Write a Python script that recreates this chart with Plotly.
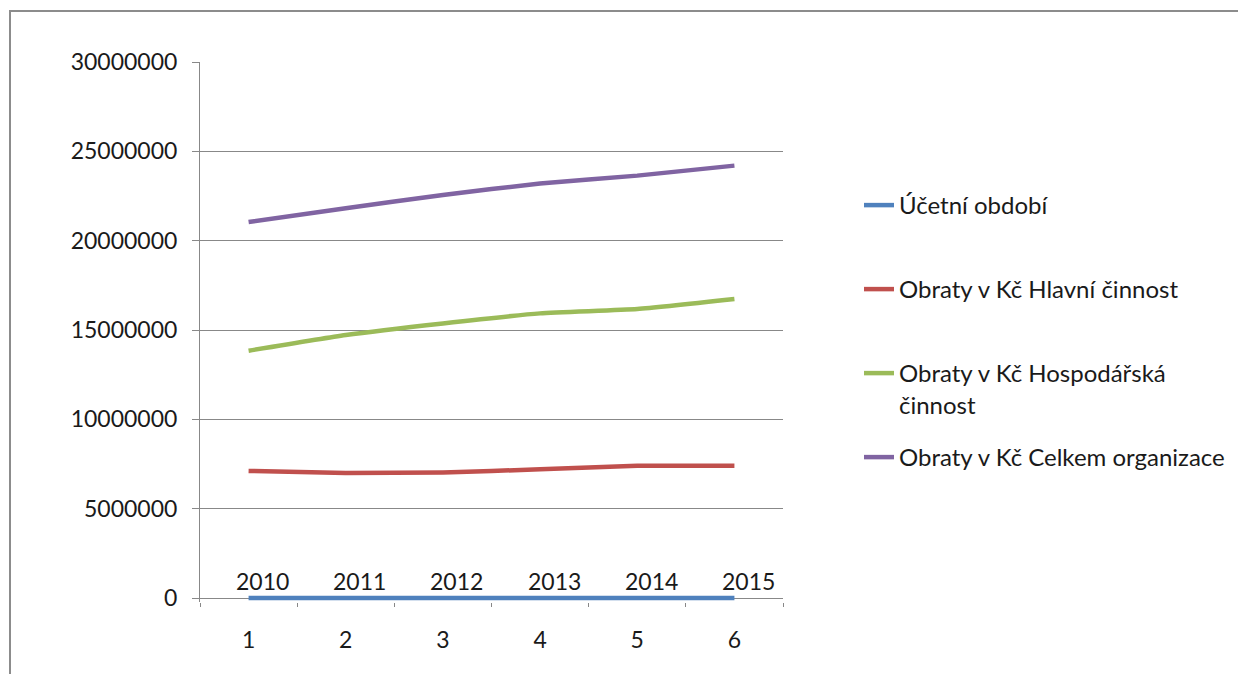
import plotly.graph_objects as go

categories = ["1", "2", "3", "4", "5", "6"]
ucetni_obdobi = [2010, 2011, 2012, 2013, 2014, 2015]
hlavni = [7110000, 7000000, 7030000, 7200000, 7400000, 7400000]
hospodarska = [13840000, 14720000, 15370000, 15930000, 16170000, 16730000]
celkem = [21040000, 21820000, 22560000, 23200000, 23640000, 24200000]

names = ["Účetní období", "Obraty v Kč Hlavní činnost",
         "Obraty v Kč Hospodářská<br>činnost", "Obraty v Kč Celkem organizace"]
colors = ["#4F81BD", "#C0504D", "#9BBB59", "#8064A2"]
series = [ucetni_obdobi, hlavni, hospodarska, celkem]

FONT = "Lato"
OFF = 8  # page body margin
W, H = 1246 - OFF, 674 - OFF
L, T = 200 - OFF, 62 - OFF
R = W - (783 - OFF)
B = H - (602 - OFF)   # plot bottom 4px below the zero line
pw, ph = W - L - R, H - T - B
YMAX = 30000000
YMIN = -YMAX * 4 / (ph - 4)

def px(x):
    return (x - OFF - L) / pw

def py(y):
    return (H - B - (y - OFF)) / ph

fig = go.Figure()
legend_ids = ["legend", "legend2", "legend3", "legend4"]
for i, (nm, col, vals) in enumerate(zip(names, colors, series)):
    fig.add_trace(go.Scatter(
        x=categories, y=vals, name=nm, mode="lines",
        line=dict(color=col, width=4.5, shape="spline", smoothing=0.5),
        legend=legend_ids[i], showlegend=True,
    ))

for idx, v in enumerate(ucetni_obdobi):
    fig.add_annotation(x=idx, y=v, text=str(v), showarrow=False,
                       xshift=14, yshift=17,
                       font=dict(family=FONT, size=23, color="#1a1a1a"))

# chart border
fig.add_shape(type="rect", xref="paper", yref="paper",
              x0=px(10), y0=py(700), x1=px(1270), y1=py(11),
              line=dict(color="#8c8c8c", width=2), fillcolor="rgba(0,0,0,0)", layer="below")

legend_y = [204, 288, 372, 456]
legend_common = dict(font=dict(family=FONT, size=24, color="#1a1a1a"),
                     bgcolor="rgba(0,0,0,0)", borderwidth=0,
                     xanchor="left", yanchor="top", valign="top",
                     itemwidth=30, tracegroupgap=0)
layout_legends = {}
for lid, ly in zip(legend_ids, legend_y):
    layout_legends[lid] = dict(x=px(859), y=py(ly - 21), **legend_common)

fig.update_layout(
    width=W, height=H,
    margin=dict(l=L, r=R, t=T, b=B, autoexpand=False),
    paper_bgcolor="white", plot_bgcolor="white",
    font=dict(family=FONT, size=23, color="#1a1a1a"),
    xaxis=dict(type="category", tickson="boundaries", ticks="outside", ticklen=4,
               tickcolor="#888888", showline=False,
               showgrid=False, zeroline=False, ticklabelstandoff=22,
               tickfont=dict(family=FONT, size=23, color="#1a1a1a"),
               range=[-0.5, 5.5]),
    yaxis=dict(range=[YMIN, YMAX], tickvals=[0, 5000000, 10000000, 15000000, 20000000, 25000000, 30000000],
               tickformat="d",
               ticks="outside", ticklen=7, tickcolor="#888888",
               showline=True, linecolor="#888888", linewidth=1,
               showgrid=True, gridcolor="#888888", gridwidth=1,
               zeroline=True, zerolinecolor="#888888", zerolinewidth=1,
               ticklabelstandoff=10,
               tickfont=dict(family=FONT, size=23, color="#1a1a1a")),
    showlegend=True,
    **layout_legends,
)

fig.write_html("out.html")
